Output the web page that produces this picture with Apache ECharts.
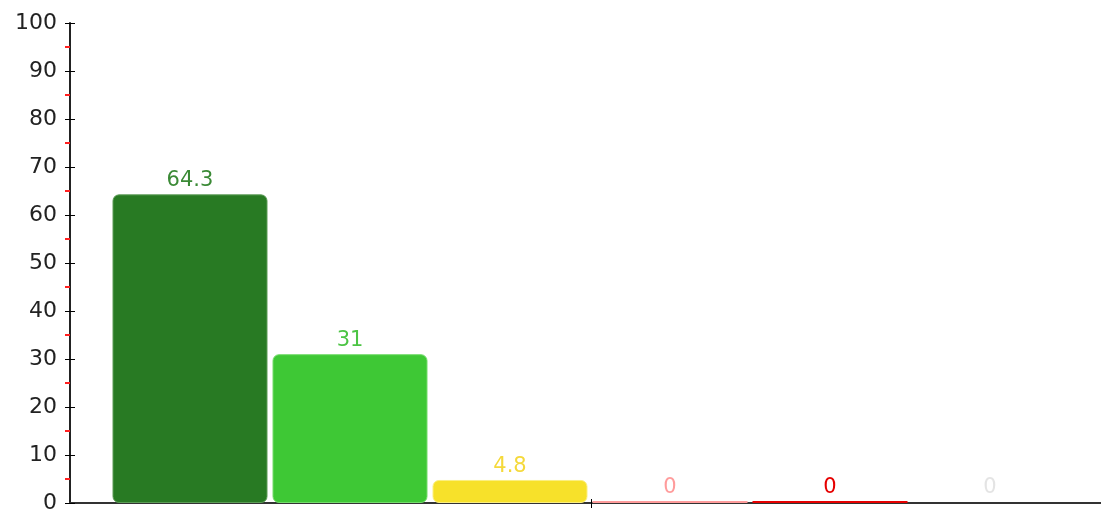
<!DOCTYPE html>
<html>
<head>
<meta charset="utf-8">
<script src="https://cdn.jsdelivr.net/npm/echarts@6/dist/echarts.min.js"></script>
<style>
  html, body { margin: 0; padding: 0; background: #fff; }
  #chart { width: 1101px; height: 514px; }
</style>
</head>
<body>
<div id="chart"></div>
<script>
// Categories and values of the bars
const categories = ['A', 'B', 'C', 'D', 'E', 'F'];
const values = [64.3, 31, 4.8, 0, 0, 0];
const barColors = ['#287a23', '#3ec835', '#f7e12a', '#ff9c9c', '#e60000', 'rgba(0,0,0,0)'];
const edgeColors = ['#5c9c57', '#74dc6c', '#fbef80', '#ffc0c0', '#f05050', 'rgba(0,0,0,0)'];
const labelColors = ['#3b8a36', '#4cc444', '#f5d93a', '#ff9c9c', '#e60000', '#e4e4e4'];
const yMin = 0, yMax = 100, yStep = 10;

const font = 'DejaVu Sans';

const chart = echarts.init(document.getElementById('chart'), null, { renderer: 'canvas' });

// baseline axis spans the plot in pixels; a single crossing mark sits near its middle
const baseAxis = {
  type: 'value', gridIndex: 0, min: 0, max: 1031,
  splitLine: { show: false },
  axisLabel: { show: false }
};

chart.setOption({
  animation: false,
  backgroundColor: '#ffffff',
  grid: [
    { left: 70, right: 0, top: 23, bottom: 11, containLabel: false },
    { left: 110, right: 31, top: 23, bottom: 11, containLabel: false }
  ],
  xAxis: [
    Object.assign({}, baseAxis, {
      axisLine: { show: true, onZero: false, lineStyle: { color: '#333', width: 2 } },
      axisTick: { show: true, length: 5, customValues: [521], lineStyle: { color: '#000', width: 1 } }
    }),
    Object.assign({}, baseAxis, {
      position: 'bottom',
      axisLine: { show: false, onZero: false },
      axisTick: { show: true, inside: true, length: 4, customValues: [521], lineStyle: { color: '#000', width: 1 } }
    }),
    {
      type: 'category', gridIndex: 1, data: categories,
      show: false
    }
  ],
  yAxis: [
    {
      type: 'value', gridIndex: 0, min: yMin, max: yMax, interval: yStep,
      axisLine: { show: true, onZero: false, lineStyle: { color: '#222', width: 2 } },
      axisTick: { show: true, length: 5, lineStyle: { color: '#000', width: 1 } },
      minorTick: { show: true, splitNumber: 2, length: 5, lineStyle: { color: '#ff2020', width: 2 } },
      splitLine: { show: false },
      axisLabel: { color: '#222', fontFamily: font, fontSize: 22, margin: 13, padding: [6, 0, 0, 0] }
    },
    {
      type: 'value', gridIndex: 0, min: yMin, max: yMax, interval: yStep, position: 'left',
      axisLine: { show: false, onZero: false },
      axisTick: { show: true, inside: true, length: 5, lineStyle: { color: '#000', width: 1 } },
      splitLine: { show: false },
      axisLabel: { show: false }
    },
    {
      type: 'value', gridIndex: 1, min: yMin, max: yMax, interval: yStep, show: false
    }
  ],
  series: [
    {
      type: 'bar',
      xAxisIndex: 2,
      yAxisIndex: 2,
      barWidth: 155,
      barMinHeight: 2,
      data: values.map((v, i) => ({
        value: v,
        itemStyle: {
          color: barColors[i],
          borderColor: edgeColors[i],
          borderWidth: v > 0 ? 1 : 0,
          borderRadius: v > 0 ? 6 : 0
        },
        label: { color: labelColors[i] }
      })),
      label: {
        show: true,
        position: 'top',
        distance: 3,
        fontFamily: font,
        fontSize: 21
      }
    }
  ]
});
</script>
</body>
</html>
